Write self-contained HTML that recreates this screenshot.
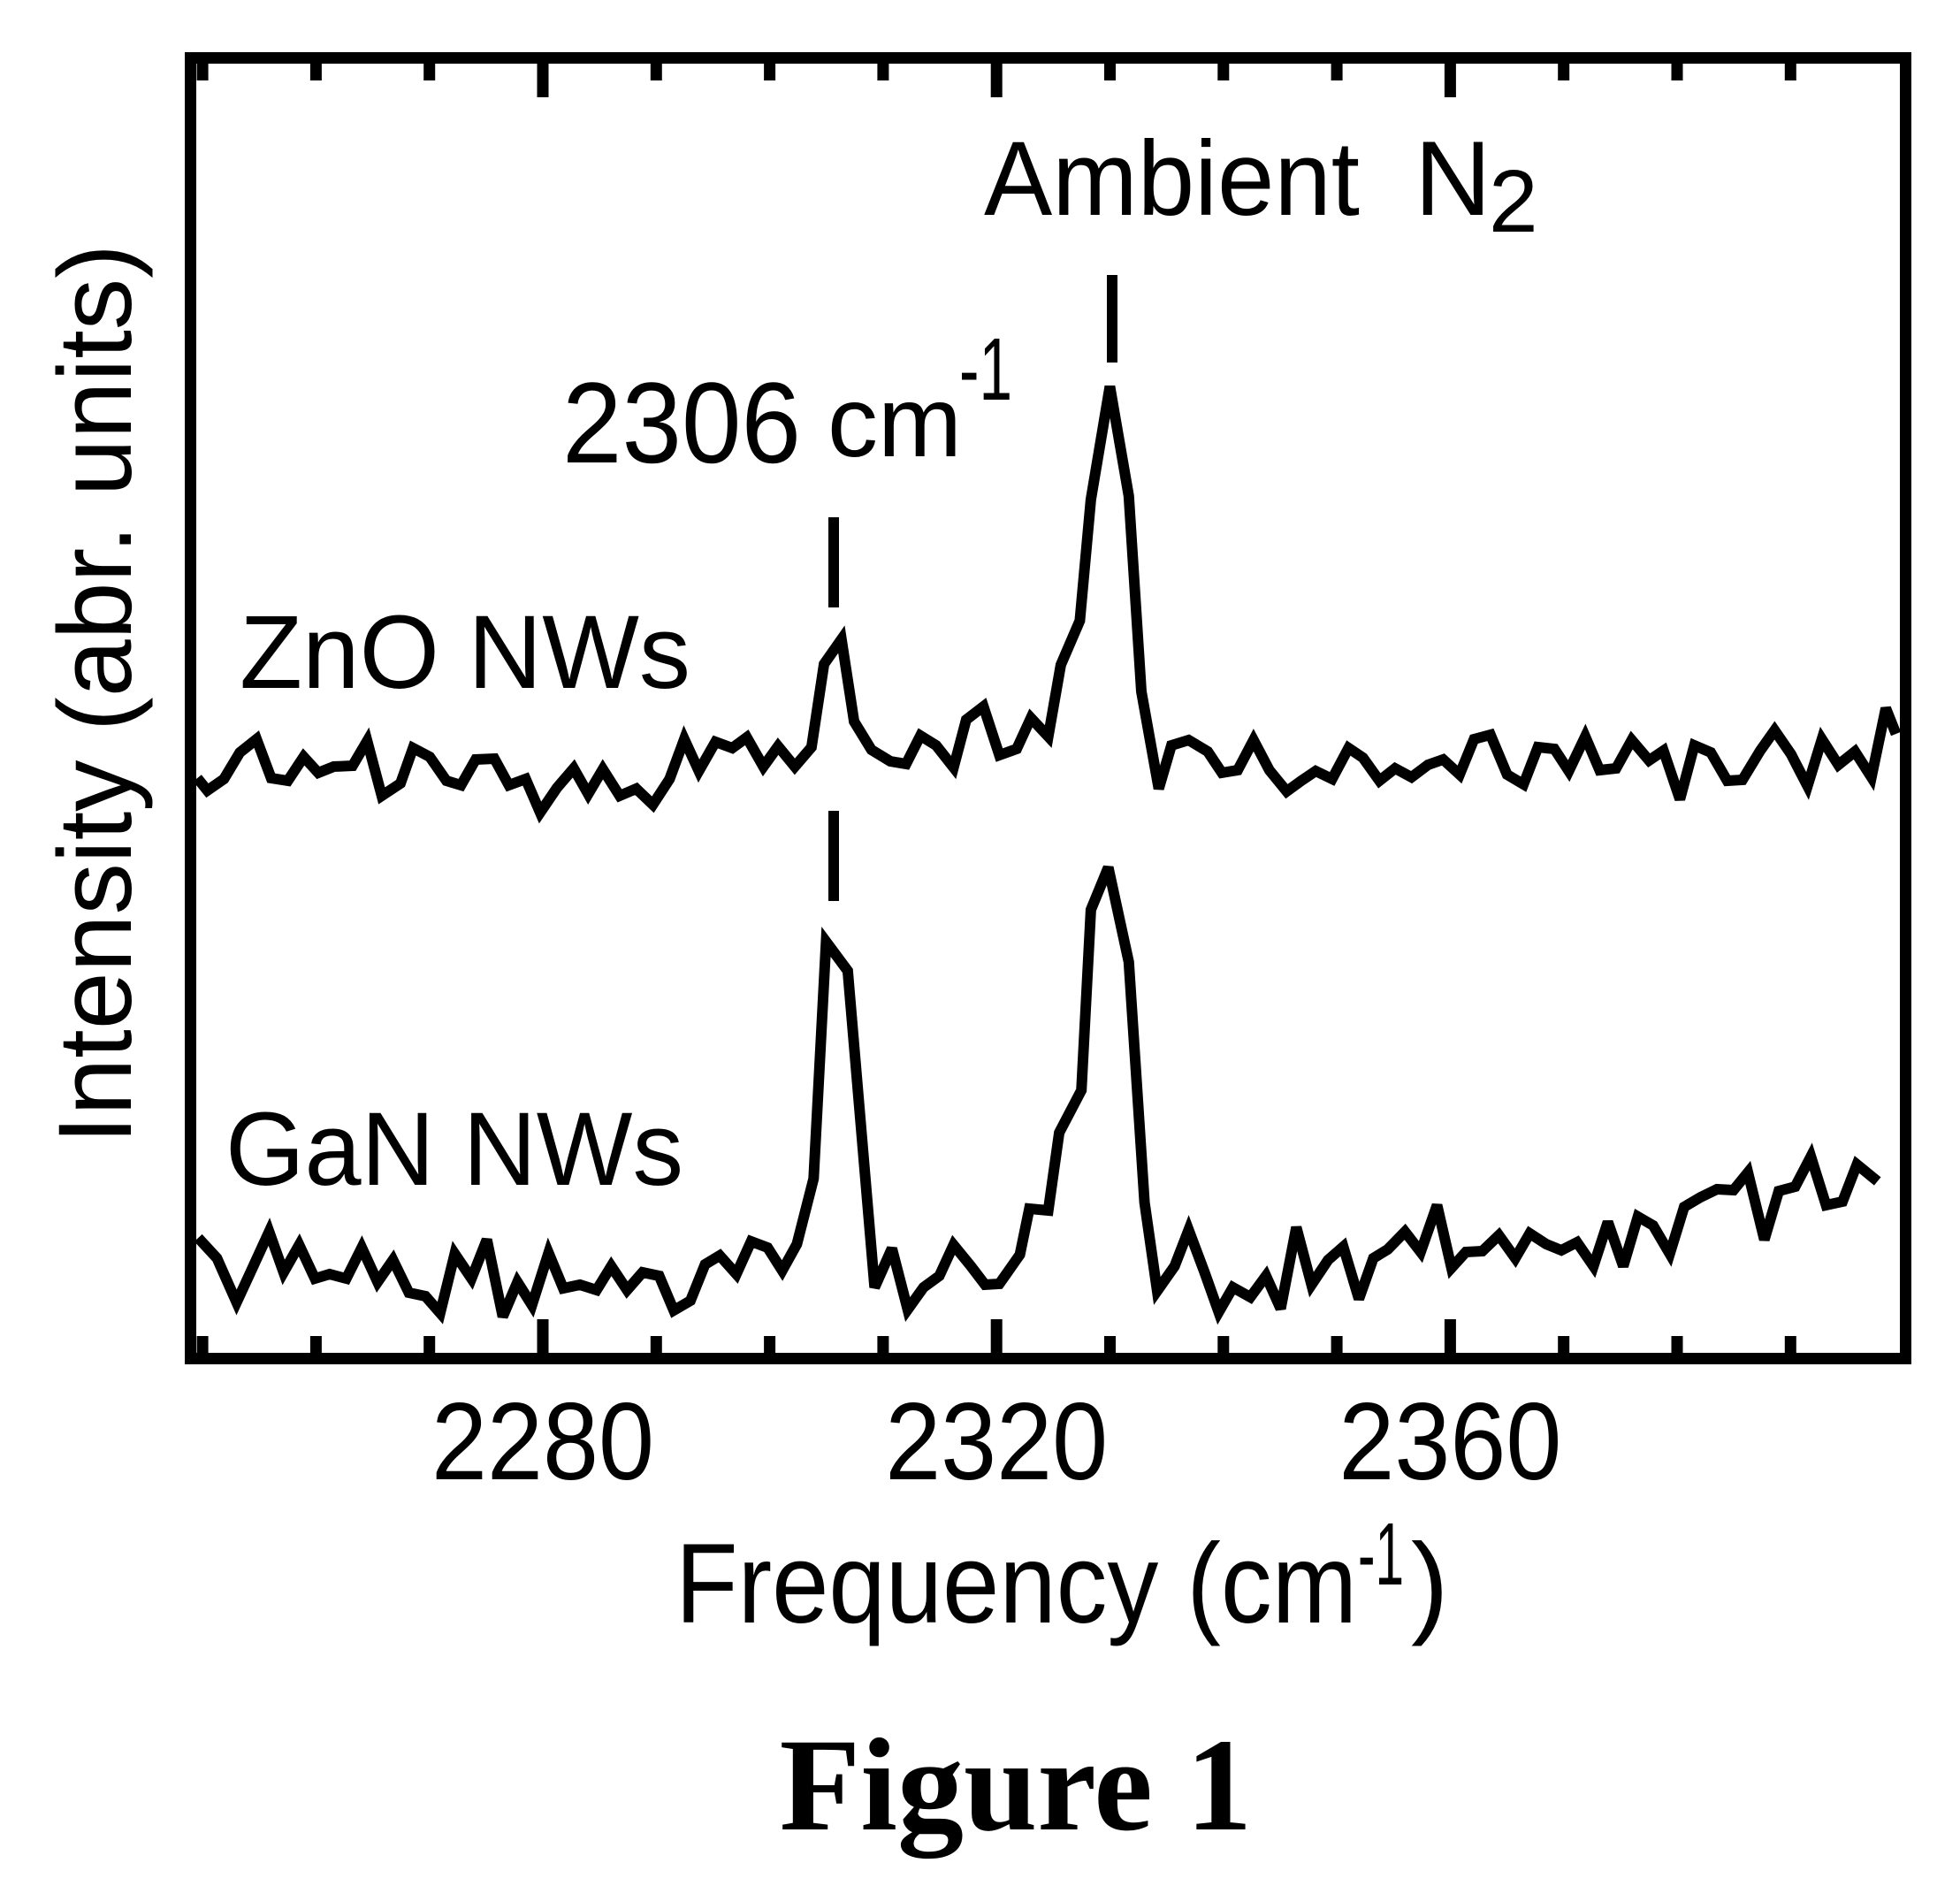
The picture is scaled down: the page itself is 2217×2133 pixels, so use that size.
<!DOCTYPE html>
<html>
<head>
<meta charset="utf-8">
<style>
html,body{margin:0;padding:0;background:#fff;}
svg{display:block;}
text{font-family:"Liberation Sans",sans-serif;fill:#000;}
</style>
</head>
<body>
<svg id="chart" width="2217" height="2133" viewBox="0 0 2217 2133" xmlns="http://www.w3.org/2000/svg">
  <rect x="0" y="0" width="2217" height="2133" fill="#fff"/>
  <g id="ticks"></g>
  <g id="series"></g>
  <rect x="215.5" y="65.5" width="1940" height="1471" fill="none" stroke="#000" stroke-width="13"/>
  <g id="ticklabels"></g>

  <line x1="1258" y1="311" x2="1258" y2="410" stroke="#000" stroke-width="12"/>
  <line x1="943" y1="585" x2="943" y2="687" stroke="#000" stroke-width="12"/>
  <line x1="943" y1="917" x2="943" y2="1019" stroke="#000" stroke-width="12"/>

  <text x="1113" y="243" font-size="120" textLength="425" lengthAdjust="spacingAndGlyphs">Ambient</text>
  <text x="1600" y="243" font-size="120">N</text>
  <text x="1684" y="262" font-size="100">2</text>

  <text x="636" y="523" font-size="130" textLength="270" lengthAdjust="spacingAndGlyphs">2306</text>
  <text x="936" y="516" font-size="113" textLength="152" lengthAdjust="spacingAndGlyphs">cm</text>
  <text x="1085" y="452" font-size="100" textLength="60" lengthAdjust="spacingAndGlyphs">-1</text>

  <text x="271" y="778" font-size="118" textLength="510" lengthAdjust="spacingAndGlyphs">ZnO NWs</text>
  <text x="255" y="1340" font-size="118" textLength="518" lengthAdjust="spacingAndGlyphs">GaN NWs</text>

  <text x="764" y="1835" font-size="128" textLength="771" lengthAdjust="spacingAndGlyphs">Frequency (cm</text>
  <text x="1536" y="1792" font-size="100" textLength="52" lengthAdjust="spacingAndGlyphs">-1</text>
  <text x="1596" y="1835" font-size="128">)</text>

  <text transform="translate(148,1294) rotate(-90)" x="0" y="0" font-size="118" textLength="1018" lengthAdjust="spacingAndGlyphs">Intensity (abr. units)</text>

  <text x="1149" y="2069" font-size="150" text-anchor="middle" font-weight="bold" style="font-family:'Liberation Serif',serif">Figure 1</text>
</svg>
<script>
const znoFreq = [2249.54,2250.42,2251.89,2253.29,2254.76,2256.05,2257.52,2258.92,2260.2,2261.57,2263.23,2264.51,2265.8,2267.45,2268.56,2270.03,2271.5,2272.79,2274.08,2275.73,2277.01,2278.49,2279.77,2281.25,2282.72,2284.0,2285.29,2286.77,2288.24,2289.7,2291.18,2292.47,2293.76,2295.22,2296.7,2297.98,2299.45,2300.74,2302.21,2303.69,2304.79,2306.33,2307.44,2308.97,2310.64,2312.03,2313.29,2314.68,2316.21,2317.33,2318.85,2320.25,2321.78,2323.03,2324.56,2325.67,2327.34,2328.32,2329.99,2331.66,2332.77,2334.3,2335.42,2336.94,2338.62,2339.87,2341.26,2342.66,2344.05,2345.58,2346.87,2348.14,2349.59,2351.04,2352.31,2353.76,2355.14,2356.59,2358.04,2359.38,2360.83,2362.1,2363.55,2365.01,2366.46,2367.73,2369.18,2370.45,2371.9,2373.17,2374.62,2376.0,2377.53,2378.8,2380.25,2381.52,2382.97,2384.42,2385.77,2387.33,2388.6,2390.05,2391.5,2392.77,2394.22,2395.68,2397.13,2398.4,2399.3];
const znoIntensity = [65.6,64.2,65.5,68.5,70.0,65.6,65.3,68.0,66.2,66.9,67.0,69.8,63.6,65.0,69.0,68.0,65.3,64.8,67.7,67.8,64.8,65.5,61.7,64.5,66.7,63.8,66.6,63.6,64.4,62.6,65.5,70.0,66.4,69.7,69.0,70.2,66.9,69.2,66.9,69.1,78.5,81.3,72.0,68.8,67.5,67.2,70.4,69.3,66.8,72.2,73.7,68.2,68.9,72.4,70.3,78.4,83.4,97.1,109.9,97.5,75.4,64.4,69.3,69.9,68.6,66.2,66.5,69.9,66.5,64.1,65.3,66.4,65.5,69.0,67.9,65.3,66.7,65.7,67.1,67.7,66.0,70.0,70.5,66.0,64.9,69.1,68.9,66.4,70.3,66.5,66.7,69.9,67.6,68.7,63.2,69.3,68.5,65.3,65.4,68.7,71.0,68.3,64.7,70.0,67.1,68.6,65.7,73.5,70.6];
const ganFreq = [2249.62,2251.27,2253.0,2254.4,2255.87,2257.15,2258.52,2259.91,2261.2,2262.67,2264.04,2265.43,2266.79,2268.19,2269.66,2270.95,2272.24,2273.71,2275.07,2276.47,2277.76,2279.04,2280.51,2281.8,2283.27,2284.74,2286.03,2287.43,2288.79,2290.26,2291.54,2293.02,2294.3,2295.6,2297.06,2298.36,2299.82,2301.11,2302.4,2303.87,2304.97,2306.88,2309.25,2310.78,2312.17,2313.56,2314.96,2316.21,2317.74,2318.99,2320.25,2322.06,2322.89,2324.56,2325.53,2327.48,2328.32,2329.85,2331.66,2333.05,2334.16,2335.7,2336.94,2338.34,2339.59,2340.84,2342.38,2343.76,2345.05,2346.43,2347.77,2349.23,2350.57,2351.95,2353.22,2354.49,2356.01,2357.39,2358.84,2360.11,2361.38,2362.83,2364.29,2365.74,2367.01,2368.46,2369.8,2371.18,2372.63,2373.9,2375.25,2376.55,2377.89,2379.35,2380.62,2382.07,2383.52,2384.97,2386.24,2387.69,2388.96,2390.41,2391.79,2393.13,2394.58,2395.85,2397.67];
const ganIntensity = [13.6,11.3,6.3,10.2,14.3,9.7,12.8,9.0,9.5,9.0,12.5,8.6,11.1,7.4,7.0,5.1,11.8,9.0,13.4,4.7,8.6,6.0,11.9,7.9,8.3,7.7,10.4,7.7,9.7,9.3,5.4,6.5,10.6,11.6,9.5,13.2,12.5,9.9,12.9,20.3,47.1,43.8,8.0,12.4,5.5,8.0,9.3,12.8,10.4,8.3,8.4,11.7,16.9,16.7,25.5,30.3,50.7,55.5,44.8,17.6,7.6,10.4,14.5,9.7,5.2,8.0,6.9,9.3,5.6,14.8,8.3,11.1,12.6,6.7,11.3,12.3,14.3,12.0,17.3,10.2,12.0,12.1,13.9,11.3,14.1,12.9,12.2,13.1,10.4,15.4,10.4,16.0,15.0,11.8,17.1,18.2,19.1,19.0,21.0,13.4,18.9,19.4,22.8,17.3,17.7,21.9,20.0];
const tickValues = [2250,2260,2270,2280,2290,2300,2310,2320,2330,2340,2350,2360,2370,2380,2390];
const majorTickValues = [2280,2320,2360];
const tickLabels = ["2280","2320","2360"];

const NS = "http://www.w3.org/2000/svg";
function xScale(v){ return 614 + (v - 2280) * 12.83; }
function yScale(v){ return 1536 - v * 10; }

const tickG = document.getElementById('ticks');
tickValues.forEach(function(t){
  const major = majorTickValues.indexOf(t) >= 0;
  const len = major ? 38 : 19;
  const x = xScale(t);
  const b = document.createElementNS(NS,'line');
  b.setAttribute('x1',x); b.setAttribute('x2',x);
  b.setAttribute('y1',1536); b.setAttribute('y2',1530 - len);
  b.setAttribute('stroke','#000'); b.setAttribute('stroke-width','13');
  
  
  tickG.appendChild(b);
  const tp = document.createElementNS(NS,'line');
  tp.setAttribute('x1',x); tp.setAttribute('x2',x);
  tp.setAttribute('y1',66); tp.setAttribute('y2',72 + len);
  tp.setAttribute('stroke','#000'); tp.setAttribute('stroke-width','13');
  
  
  tickG.appendChild(tp);
});

const labG = document.getElementById('ticklabels');
majorTickValues.forEach(function(t,i){
  const tx = document.createElementNS(NS,'text');
  tx.setAttribute('x', xScale(t));
  tx.setAttribute('y', 1673);
  tx.setAttribute('font-size','124');
  tx.setAttribute('text-anchor','middle');
  tx.setAttribute('textLength','252');
  tx.setAttribute('lengthAdjust','spacingAndGlyphs');
  
  
  tx.textContent = tickLabels[i];
  labG.appendChild(tx);
});

function drawSeries(xs, ys, name){
  const pts = xs.map(function(x,i){ return xScale(x).toFixed(1) + ',' + yScale(ys[i]).toFixed(1); }).join(' ');
  const pl = document.createElementNS(NS,'polyline');
  pl.setAttribute('points', pts);
  pl.setAttribute('fill','none');
  pl.setAttribute('stroke','#000');
  pl.setAttribute('stroke-width','12');
  pl.setAttribute('stroke-linejoin','miter');
  pl.setAttribute('stroke-miterlimit','3');
  
  
  document.getElementById('series').appendChild(pl);
}
drawSeries(znoFreq, znoIntensity, 'zno-spectrum-line');
drawSeries(ganFreq, ganIntensity, 'gan-spectrum-line');
</script>
</body>
</html>
